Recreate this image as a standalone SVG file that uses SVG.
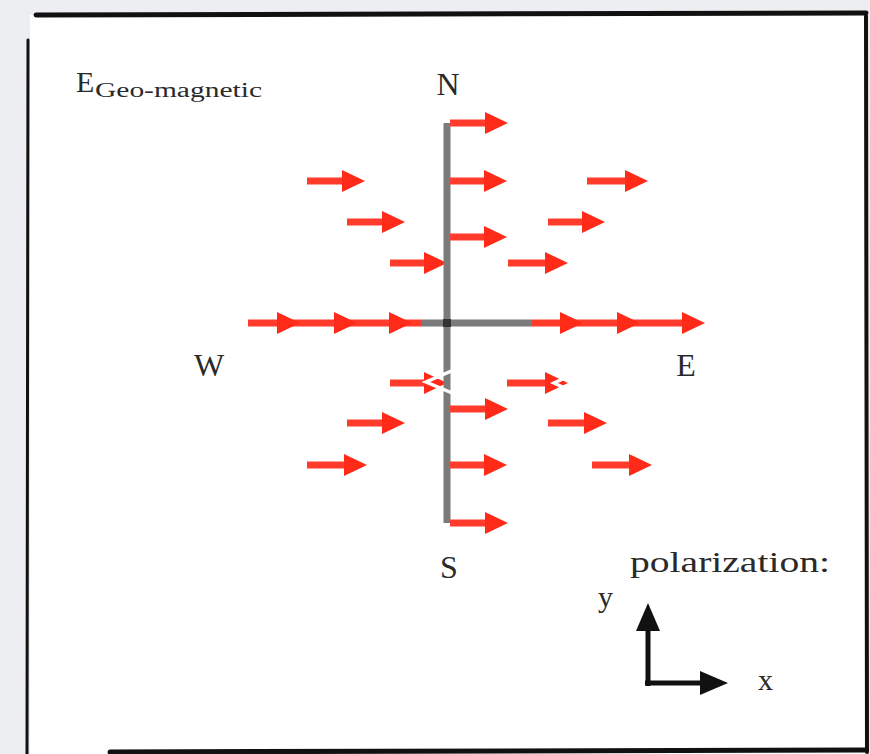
<svg xmlns="http://www.w3.org/2000/svg" width="870" height="754" viewBox="0 0 870 754">
<style>
.red{stroke:#ff3b2b;stroke-width:7;fill:none}
.gray{stroke:#7b7b7b;stroke-width:7;fill:none}
.lbl{font-family:"Liberation Serif","Times New Roman",serif;fill:#2a2a2a}
.frame{stroke:#111;fill:none;stroke-linecap:round}
</style>
<defs>
<path id="head" d="M-23,-11 L0,0 L-23,11 Z" fill="#ff2a18"/>
<path id="khead" d="M-28,-12 L0,0 L-28,12 Z" fill="#111"/>
</defs>
<rect x="0" y="0" width="870" height="754" fill="#eceef1"/>
<rect x="30" y="15" width="837" height="739" fill="#fff"/>
<g id="frame">
<path class="frame" d="M36,15 L866,13" stroke-width="5"/>
<path class="frame" d="M28,40 L27,754" stroke-width="3"/>
<path class="frame" d="M866,16 L867,752" stroke-width="4"/>
<path class="frame" d="M110,752 L866,750" stroke-width="5"/>
</g>
<g id="field">
<line class="red" x1="248" y1="323" x2="422" y2="323"/>
<line class="red" x1="532" y1="323" x2="695" y2="323"/>
<use href="#head" x="300" y="323"/>
<use href="#head" x="357" y="323"/>
<use href="#head" x="412" y="323"/>
<use href="#head" x="583" y="323"/>
<use href="#head" x="640" y="323"/>
<use href="#head" x="705" y="323"/>
<g id="arrows-left">
<line class="red" x1="307" y1="181" x2="352" y2="181"/><use href="#head" x="365" y="181"/>
<line class="red" x1="347" y1="222" x2="392" y2="222"/><use href="#head" x="405" y="222"/>
<line class="red" x1="390" y1="263" x2="435" y2="263"/><use href="#head" x="447" y="263"/>
<line class="red" x1="390" y1="383" x2="435" y2="383"/><use href="#head" x="447" y="383"/>
<line class="red" x1="347" y1="423" x2="392" y2="423"/><use href="#head" x="405" y="423"/>
<line class="red" x1="307" y1="465" x2="354" y2="465"/><use href="#head" x="367" y="465"/>
</g>
<g id="arrows-right">
<line class="red" x1="587" y1="181" x2="635" y2="181"/><use href="#head" x="648" y="181"/>
<line class="red" x1="548" y1="222" x2="592" y2="222"/><use href="#head" x="605" y="222"/>
<line class="red" x1="508" y1="263" x2="555" y2="263"/><use href="#head" x="568" y="263"/>
<line class="red" x1="507" y1="383" x2="555" y2="383"/><use href="#head" x="568" y="383"/>
<line class="red" x1="548" y1="423" x2="594" y2="423"/><use href="#head" x="607" y="423"/>
<line class="red" x1="592" y1="465" x2="639" y2="465"/><use href="#head" x="652" y="465"/>
</g>
<g id="axes">
<line class="gray" x1="447" y1="123" x2="447" y2="523"/>
<line class="gray" x1="422" y1="323" x2="532" y2="323"/>
<rect x="443" y="319" width="8" height="8" fill="#333"/>
</g>
<g id="arrows-center">
<line class="red" x1="450" y1="123" x2="495" y2="123"/><use href="#head" x="508" y="123"/>
<line class="red" x1="450" y1="181" x2="494" y2="181"/><use href="#head" x="507" y="181"/>
<line class="red" x1="450" y1="237" x2="494" y2="237"/><use href="#head" x="507" y="237"/>
<line class="red" x1="450" y1="409" x2="495" y2="409"/><use href="#head" x="508" y="409"/>
<line class="red" x1="450" y1="465" x2="494" y2="465"/><use href="#head" x="507" y="465"/>
<line class="red" x1="450" y1="523" x2="495" y2="523"/><use href="#head" x="508" y="523"/>
</g>
<g id="marks" fill="none" stroke="#fff" stroke-width="3.5">
<polyline points="456,369 426,382 476,403"/>
<polyline points="569,376 554,383 569,390"/>
</g>
</g>
<g id="labels">
<text class="lbl" x="76" y="92" font-size="30">E</text>
<text class="lbl" x="95" y="97" font-size="20" textLength="167" lengthAdjust="spacingAndGlyphs">Geo-magnetic</text>
<text class="lbl" x="448" y="95" font-size="32" text-anchor="middle">N</text>
<text class="lbl" x="209" y="376" font-size="32" text-anchor="middle">W</text>
<text class="lbl" x="686" y="376" font-size="32" text-anchor="middle">E</text>
<text class="lbl" x="449" y="578" font-size="32" text-anchor="middle">S</text>
<text class="lbl" x="630" y="572" font-size="30" textLength="200" lengthAdjust="spacingAndGlyphs">polarization:</text>
<text class="lbl" x="598" y="607" font-size="30">y</text>
<text class="lbl" x="758" y="690" font-size="30">x</text>
</g>
<g id="polarization">
<line x1="648" y1="686" x2="648" y2="625" stroke="#111" stroke-width="5"/>
<use href="#khead" transform="translate(648,603) rotate(-90)"/>
<line x1="645" y1="683" x2="705" y2="683" stroke="#111" stroke-width="5"/>
<use href="#khead" x="728" y="683"/>
</g>
</svg>
